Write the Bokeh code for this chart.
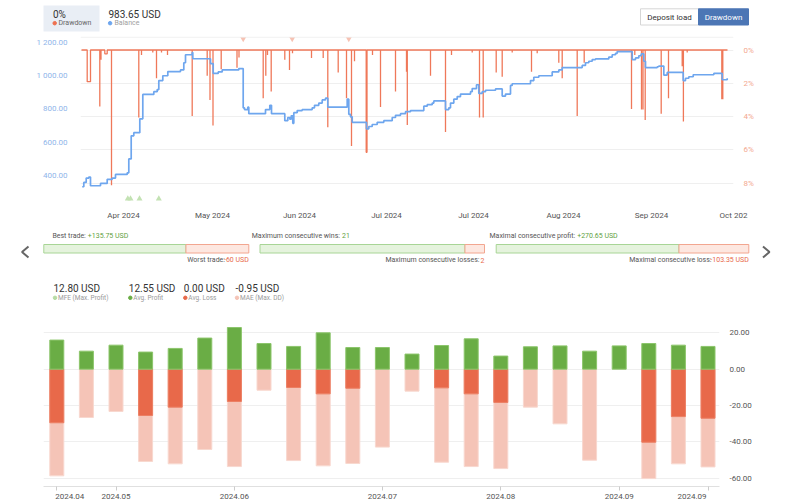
from bokeh.plotting import figure
from bokeh.models import Range1d, LinearAxis, FixedTicker, Span
from bokeh.layouts import column
from bokeh.embed import file_html
from bokeh.resources import INLINE
from bokeh.core.properties import value

FONT = "Roboto"
W = 790

# ---------------- data ----------------
# balance curve (trade sequence position, USD)
bal_t = [81.7, 83.3, 85.7, 88.3, 90.0, 100.0, 106.7, 111.7, 115.0, 126.7,
         128.3, 130.7, 133.3, 139.3, 142.3, 153.3, 156.7, 158.3, 162.3, 167.3,
         180.0, 183.3, 185.0, 191.7, 192.3, 210.0, 212.7, 217.7, 221.7, 238.3,
         242.7, 244.0, 247.3, 248.3, 265.0, 269.3, 271.0, 284.3, 287.3, 289.3,
         290.7, 292.3, 293.3, 296.7, 301.7, 311.7, 314.0, 318.3, 321.7, 325.0,
         327.3, 346.7, 348.3, 350.0, 351.7, 366.0, 368.3, 371.7, 376.7, 383.3,
         391.7, 395.0, 400.0, 405.0, 410.0, 423.3, 426.7, 431.7, 433.3, 445.0,
         448.3, 450.0, 453.3, 456.7, 460.0, 470.0, 471.7, 476.0, 478.3, 481.7,
         485.0, 495.0, 501.7, 505.0, 510.0, 511.7, 530.0, 533.3, 538.3, 551.7,
         558.3, 561.7, 581.7, 585.0, 588.3, 591.7, 595.0, 608.3, 611.7, 615.0,
         616.7, 631.7, 635.0, 638.3, 640.7, 643.3, 645.0, 656.7, 658.3, 663.3,
         666.7, 682.7, 685.0, 688.3, 692.7, 713.3, 721.7, 726.7]
bal_v = [332, 358, 384, 390, 338, 352, 377, 384, 406, 416,
         499, 638, 657, 740, 887, 903, 916, 970, 999, 1024,
         1034, 1077, 1125, 1138, 1101, 1072, 1013, 1022, 1034, 1042,
         806, 796, 810, 771, 796, 821, 771, 729, 748, 738,
         758, 713, 777, 790, 796, 806, 821, 835, 854, 864,
         810, 858, 767, 752, 719, 680, 694, 706, 719, 729,
         748, 761, 771, 783, 790, 816, 825, 835, 848, 796,
         806, 835, 858, 874, 889, 903, 922, 945, 893, 903,
         912, 920, 877, 889, 941, 951, 970, 990, 999, 1022,
         1034, 1048, 1061, 1077, 1086, 1096, 1100, 1111, 1125, 1134,
         1144, 1096, 1106, 1119, 1130, 1086, 1048, 1053, 1057, 1003,
         1019, 970, 984, 993, 1005, 1013, 975, 983.65]

# drawdown events (position, depth %, duration)
dd_t = [86.7, 99.3, 100.5, 104.3, 111.0, 138.3, 141.0, 152.3, 156.0, 161.0,
        167.0, 191.7, 206.7, 209.5, 212.5, 220.7, 236.5, 238.5, 262.7, 265.3,
        267.0, 270.7, 284.3, 289.0, 292.0, 311.0, 322.7, 327.3, 337.7, 346.0,
        351.0, 354.0, 365.7, 372.0, 380.0, 395.0, 406.0, 406.8, 430.0, 445.0,
        451.0, 471.7, 479.0, 482.7, 495.7, 501.7, 511.7, 531.0, 536.7, 558.3,
        561.7, 576.7, 583.7, 631.0, 634.3, 641.0, 642.5, 644.7, 660.7, 668.0,
        681.7, 682.9, 686.7, 721.3, 722.3]
dd_pct = [1.9, 3.4, 0.58, 0.23, 8.12, 4.06, 0.3, 0.15, 1.7, 0.15,
          0.3, 3.96, 1.55, 3.0, 4.54, 1.16, 1.06, 0.45, 2.9, 1.55,
          0.3, 2.5, 0.58, 1.2, 0.2, 0.48, 0.48, 4.64, 1.35, 2.9,
          5.76, 0.68, 6.15, 0.3, 3.42, 2.5, 1.3, 4.5, 1.55, 4.93,
          0.3, 0.15, 4.06, 4.06, 1.35, 1.6, 0.15, 1.3, 0.2, 0.77,
          1.7, 3.96, 0.77, 3.54, 0.3, 3.58, 3.58, 4.2, 3.83, 2.9,
          0.97, 4.29, 0.15, 2.96, 2.96]
dd_dur = [3.3, 0, 0, 2.4, 0, 0, 0, 0, 0, 0,
          0, 0, 0, 0, 0, 0, 0, 0, 0, 0,
          0, 0, 0, 0, 0, 0, 0, 0, 0, 0,
          0, 0, 0.8, 0, 0, 0, 0, 0, 0, 0,
          0, 0, 0, 0, 0, 0, 0, 0, 0, 0,
          0, 0, 0, 0, 0, 0, 0, 0, 0, 0,
          0, 0, 0, 0, 0]

deposit_t = [127.3, 130.0, 139.0, 158.3]
withdraw_t = [242.7, 291.7, 348.3]

top_tick_t = [123, 212, 299, 386, 473, 563, 651, 733]
top_tick_labels = ["Apr 2024", "May 2024", "Jun 2024", "Jul 2024", "Jul 2024",
                   "Aug 2024", "Sep 2024", "Oct 202"]
bal_ticks = [400, 600, 800, 1000, 1200]
dd_ticks = [0, 2, 4, 6, 8]

current_dd = 0
final_balance = 983.65

best_trade = 135.75
worst_trade = -60
max_cons_wins = 21
max_cons_losses = 2
max_cons_profit = 270.65
max_cons_loss = -103.35

mfe = 12.80
avg_profit = 12.55
avg_loss = 0.00
mae = -0.95

profit_bars = [16.0, 9.9, 13.2, 9.4, 11.4, 17.1, 22.9, 14.1, 12.5, 20.0, 11.9, 11.9,
               8.3, 13.0, 16.7, 7.2, 12.3, 12.8, 9.9, 12.8, 14.1, 13.2, 12.5]
loss_bars = [-29.5, 0, 0, -25.5, -20.9, 0, -17.8, 0, -10.1, -13.6, -10.5, 0,
             0, -10.3, -13.6, -18.3, 0, 0, 0, 0, -40.2, -26.1, -27.0]
mae_bars = [-58.7, -26.6, -23.3, -50.8, -52.1, -44.2, -53.6, -11.6, -50.3, -53.2, -51.9, -42.9,
            -12.1, -51.2, -53.6, -54.7, -20.9, -30.1, -50.1, 0, -60.2, -52.1, -53.8]
bar_tick_idx = [0, 2, 6, 11, 15, 19, 22]
bar_tick_labels = ["2024.04", "2024.05", "2024.06", "2024.07", "2024.08", "2024.09", "2024.09"]
bar_axis_ticks = [20, 0, -20, -40, -60]

C_DD = "#ee7150"
C_BAL = "#6ea6ee"
C_GREEN = "#6aad45"
C_RED = "#e8694a"
C_PINK = "#f5c4b7"
C_LGREEN = "#b7dca4"


def fmt_thousands(v):
    s = f"{v:,.2f}"
    return s.replace(",", " ")


def txt(p, x, y, s, size, color, align="left", style="normal"):
    p.text(x=[x], y=[y], text=[s], text_font=value(FONT), text_font_size=f"{size}px",
           text_color=color, text_align=align, text_baseline="middle",
           text_font_style=style)


def deco(h):
    p = figure(width=W, height=h, x_range=Range1d(0, W), y_range=Range1d(h, 0),
               output_backend="svg", toolbar_location=None, min_border=0,
               x_axis_location=None, y_axis_location=None, frame_align=False)
    p.outline_line_color = None
    p.grid.visible = False
    return p


# ---------------- header ----------------
hd = deco(32)
hd.quad(left=43, right=99, top=5, bottom=31, fill_color="#e9eef5", line_color=None)
txt(hd, 52.5, 14.3, f"{current_dd}%", 10, "#333333")
hd.scatter([54.2], [22.7], size=3.5, color=C_DD)
txt(hd, 58, 22.7, "Drawdown", 7, "#666666")
txt(hd, 108, 14.3, f"{final_balance:.2f} USD", 10, "#333333")
hd.scatter([109.6], [22.7], size=3.5, color=C_BAL)
txt(hd, 114, 22.7, "Balance", 7, "#a0a0a0")
hd.quad(left=640, right=698, top=8.3, bottom=24.5, fill_color="white", line_color="#d6d6d6")
txt(hd, 669, 16.5, "Deposit load", 8, "#333333", align="center")
hd.quad(left=698, right=748, top=8.3, bottom=24.5, fill_color="#4c76b5", line_color="#4c76b5")
txt(hd, 723, 16.5, "Drawdown", 8, "white", align="center")

# ---------------- balance / drawdown chart ----------------
px_per_2pct = 34.5
dd_top = -14 * 2 / px_per_2pct
dd_bot = 157 * 2 / px_per_2pct
bal_top = 1200 + 6 * 200 / px_per_2pct
bal_bot = 1200 - 165 * 200 / px_per_2pct

tp = figure(width=W, height=190, x_range=Range1d(80, 733), y_range=Range1d(dd_bot, dd_top),
            y_axis_location="right", output_backend="svg", toolbar_location=None,
            min_border_left=80, min_border_right=57, min_border_top=4, min_border_bottom=15,
            frame_align=False)
tp.outline_line_color = None
tp.xgrid.visible = False
tp.ygrid.grid_line_color = "#efefef"
tp.extra_y_ranges = {"bal": Range1d(bal_bot, bal_top)}

ra = tp.yaxis[0]
ra.ticker = FixedTicker(ticks=dd_ticks)
ra.major_label_overrides = {t: f"{t}%" for t in dd_ticks}
ra.axis_line_color = None
ra.major_tick_line_color = None
ra.minor_tick_line_color = None
ra.major_label_text_color = "#f3a88f"
ra.major_label_text_font = FONT
ra.major_label_text_font_size = "8px"
ra.major_label_standoff = 4

la = LinearAxis(y_range_name="bal", ticker=FixedTicker(ticks=bal_ticks),
                major_label_overrides={t: fmt_thousands(t) for t in bal_ticks})
la.axis_line_color = None
la.major_tick_line_color = None
la.minor_tick_line_color = None
la.major_label_text_color = "#8fb5ea"
la.major_label_text_font = FONT
la.major_label_text_font_size = "8px"
la.major_label_standoff = 7
tp.add_layout(la, "left")

xa = tp.xaxis[0]
xa.ticker = FixedTicker(ticks=top_tick_t)
xa.major_label_overrides = {t: l for t, l in zip(top_tick_t, top_tick_labels)}
xa.axis_line_color = None
xa.major_tick_line_color = None
xa.minor_tick_line_color = None
xa.major_label_text_color = "#555555"
xa.major_label_text_font = FONT
xa.major_label_text_font_size = "8px"
xa.major_label_standoff = 3

tp.add_layout(Span(location=dd_top + 0.04, dimension="width", line_color="#eeeeee", line_width=1))

# drawdown path
xs, ys = [81.0], [0.0]
for t, d, w in sorted(zip(dd_t, dd_pct, dd_dur)):
    xs += [t, t, t + w, t + w]
    ys += [0, d, d, 0]
xs.append(727.0)
ys.append(0.0)
tp.line(xs, ys, line_color=C_DD, line_width=1.3, line_alpha=0.95)

tp.step(bal_t, bal_v, mode="after", y_range_name="bal", line_color=C_BAL, line_width=1.7)

tp.scatter(deposit_t, [8.93] * len(deposit_t), marker="triangle", size=6,
           fill_color="#c3e2b3", line_color=None)
tp.scatter(withdraw_t, [-0.68] * len(withdraw_t), marker="inverted_triangle", size=6,
           fill_color="#f7c2b3", line_color=None)

# ---------------- middle panel ----------------
md = deco(96)


def progress(x0, x1, pos, neg):
    frac = pos / (pos + neg)
    xm = x0 + (x1 - x0) * frac
    md.quad(left=x0, right=xm, top=22, bottom=30.5, fill_color="#e5f3dd", line_color="#a8d596")
    md.quad(left=xm, right=x1, top=22, bottom=30.5, fill_color="#fde7e0", line_color="#f2a690")


progress(43.3, 248.3, best_trade, abs(worst_trade))
progress(259.5, 484.0, max_cons_wins, max_cons_losses)
progress(495.7, 748.3, max_cons_profit, abs(max_cons_loss))

G_T = "#555555"
G_V = "#5f9f3f"
R_V = "#e8694a"
SZ = 7
txt(md, 85.3, 13, "Best trade:", SZ, G_T, align="right")
txt(md, 87.3, 13, f"+{best_trade:.2f} USD", SZ, G_V)
txt(md, 248.3, 37.5, f"{worst_trade} USD", SZ, R_V, align="right")
txt(md, 224.5, 37.5, "Worst trade:", SZ, G_T, align="right")

txt(md, 339.5, 13, "Maximum consecutive wins:", SZ, G_T, align="right")
txt(md, 341.5, 13, f"{max_cons_wins}", SZ, G_V)
txt(md, 484.0, 37.5, f"{max_cons_losses}", SZ, R_V, align="right")
txt(md, 479.0, 37.5, "Maximum consecutive losses:", SZ, G_T, align="right")

txt(md, 574.7, 13, "Maximal consecutive profit:", SZ, G_T, align="right")
txt(md, 576.7, 13, f"+{max_cons_profit:.2f} USD", SZ, G_V)
txt(md, 748.3, 37.5, f"{max_cons_loss:.2f} USD", SZ, R_V, align="right")
txt(md, 711.0, 37.5, "Maximal consecutive loss:", SZ, G_T, align="right")

md.line([28, 21.5, 28], [24, 29.5, 35], line_color="#666666", line_width=2)
md.line([762.5, 769, 762.5], [24, 29.5, 35], line_color="#666666", line_width=2)

stats = [(53.0, mfe, "MFE (Max. Profit)", C_LGREEN),
         (128.3, avg_profit, "Avg. Profit", C_GREEN),
         (183.3, avg_loss, "Avg. Loss", C_RED),
         (235.0, mae, "MAE (Max. DD)", C_PINK)]
for x, v, lab, c in stats:
    txt(md, x, 66.3, f"{v:.2f} USD", 10, "#333333")
    md.scatter([x + 1.5], [75.3], size=3.5, color=c)
    txt(md, x + 4.5, 75.3, lab, 6.5, "#9a9a9a")

# ---------------- bar chart ----------------
unit = 36.35 / 20
y_top = 20 + (332.3 - 318) / unit
y_bot = -60 - (486 - 477.7) / unit
pitch = 29.6
x_lo = (43 - 56.3) / pitch
x_hi = (719 - 56.3) / pitch

bp = figure(width=W, height=184, x_range=Range1d(x_lo, x_hi), y_range=Range1d(y_bot, y_top),
            y_axis_location="right", output_backend="svg", toolbar_location=None,
            min_border_left=43, min_border_right=71, min_border_top=0, min_border_bottom=16,
            frame_align=False)
bp.outline_line_color = None
bp.xgrid.visible = False
bp.ygrid.grid_line_color = "#efefef"
bp.ygrid.ticker = FixedTicker(ticks=bar_axis_ticks)

idx = list(range(len(profit_bars)))
nan = float("nan")
mae_b = [v if v != 0 else nan for v in mae_bars]
loss_b = [v if v != 0 else nan for v in loss_bars]
bw = 14 / pitch
bp.vbar(x=idx, top=0, bottom=mae_b, width=bw, fill_color=C_PINK, line_color="#f8d8cf", line_width=1)
bp.vbar(x=idx, top=0, bottom=loss_b, width=bw, fill_color=C_RED, line_color="#ec7f63", line_width=1)
bp.vbar(x=idx, top=profit_bars, bottom=0, width=bw, fill_color=C_GREEN, line_color="#8cc56b", line_width=1)

ya = bp.yaxis[0]
ya.ticker = FixedTicker(ticks=bar_axis_ticks)
ya.major_label_overrides = {t: f"{t:.2f}" for t in bar_axis_ticks}
ya.axis_line_color = None
ya.major_tick_line_color = None
ya.minor_tick_line_color = None
ya.major_label_text_color = "#555555"
ya.major_label_text_font = FONT
ya.major_label_text_font_size = "8px"
ya.major_label_standoff = 4

# labels sit on major ticks (nudged inward at both ends, as in the source chart);
# the visible tick marks are the minor ticks at the true month positions
offsets = [13 / pitch] + [0] * (len(bar_tick_idx) - 2) + [-16 / pitch]
lab_pos = [t + o for t, o in zip(bar_tick_idx, offsets)]
bx = bp.xaxis[0]
bx.ticker = FixedTicker(ticks=lab_pos, minor_ticks=bar_tick_idx)
bx.major_label_overrides = {p: l for p, l in zip(lab_pos, bar_tick_labels)}
bx.axis_line_color = "#e0e0e0"
bx.major_tick_line_color = None
bx.major_tick_out = 0
bx.major_tick_in = 0
bx.minor_tick_line_color = "#cccccc"
bx.minor_tick_out = 4
bx.minor_tick_in = 0
bx.major_label_standoff = 3
bx.major_label_text_color = "#555555"
bx.major_label_text_font = FONT
bx.major_label_text_font_size = "8px"

layout = column(hd, tp, md, bp)
open("out.html", "w").write(file_html(layout, INLINE))
